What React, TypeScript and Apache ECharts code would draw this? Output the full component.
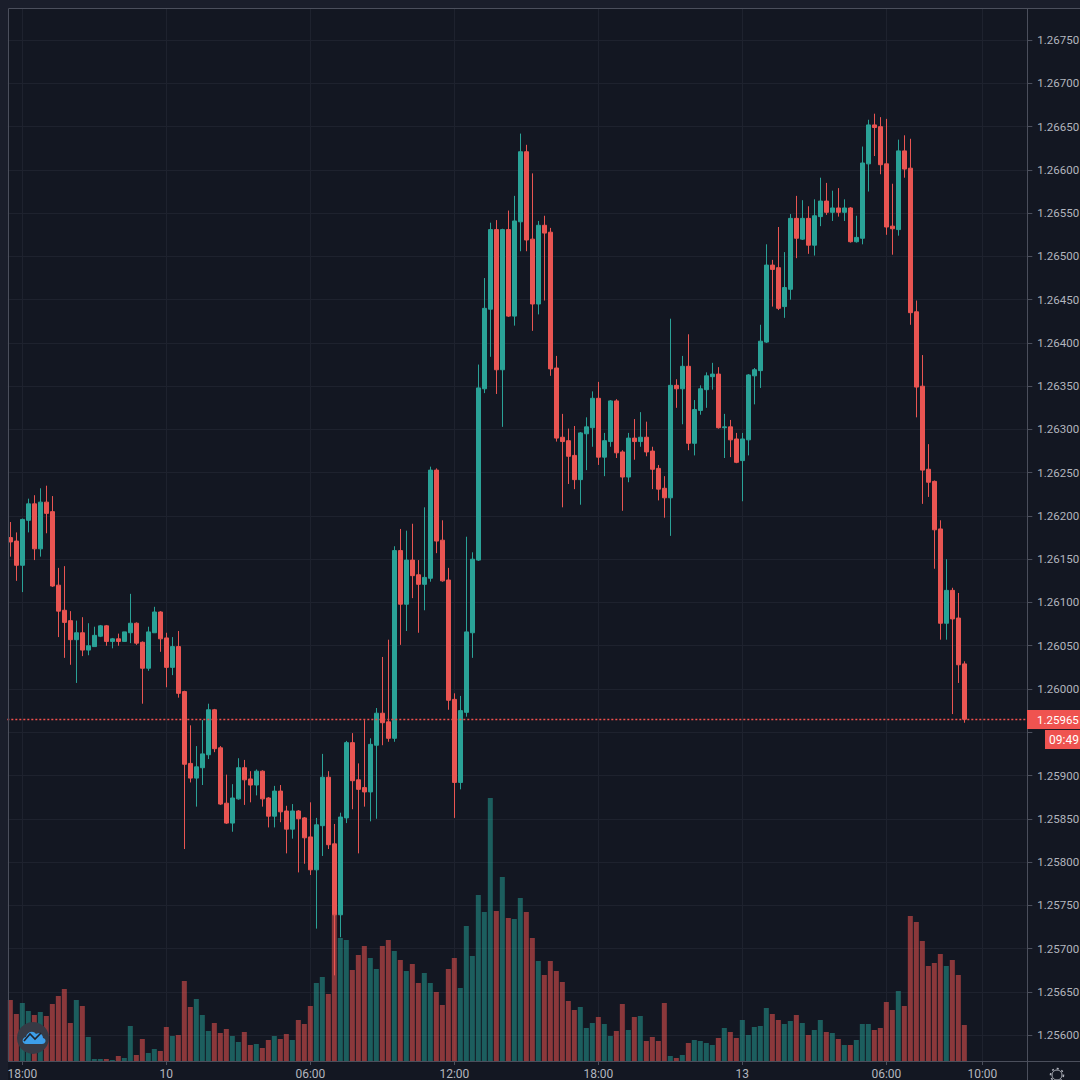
import React, { useEffect, useRef } from "react";
import * as echarts from "echarts";

const opens = [
1.26175,1.26171,1.26143,1.26195,1.26214,1.26162,1.26216,1.26205,1.26120,1.26091,
1.26079,1.26057,1.26065,1.26045,1.26049,1.26061,1.26073,1.26055,1.26058,1.26055,
1.26065,1.26076,1.26054,1.26024,1.26065,1.26089,1.26059,1.26025,1.26049,1.25997,
1.25914,1.25897,1.25909,1.25924,1.25976,1.25932,1.25868,1.25845,1.25873,1.25909,
1.25896,1.25889,1.25905,1.25874,1.25853,1.25882,1.25859,1.25838,1.25859,1.25851,
1.25829,1.25791,1.25842,1.25898,1.25821,1.25739,1.25851,1.25938,1.25895,1.25886,
1.25881,1.25935,1.25972,1.25962,1.25943,1.26160,1.26098,1.26149,1.26132,1.26121,
1.26128,1.26253,1.26172,1.26126,1.25988,1.25892,1.25973,1.26065,1.26149,1.26347,
1.26439,1.26531,1.26369,1.26531,1.26431,1.26540,1.26621,1.26520,1.26445,1.26536,
1.26528,1.26371,1.26291,1.26287,1.26270,1.26242,1.26295,1.26302,1.26336,1.26268,
1.26286,1.26333,1.26274,1.26245,1.26290,1.26286,1.26291,1.26275,1.26255,1.26232,
1.26221,1.26351,1.26347,1.26373,1.26284,1.26322,1.26346,1.26361,1.26364,1.26302,
1.26303,1.26289,1.26264,1.26288,1.26362,1.26368,1.26401,1.26490,1.26487,1.26442,
1.26462,1.26544,1.26520,1.26544,1.26513,1.26546,1.26564,1.26551,1.26556,1.26551,
1.26556,1.26517,1.26521,1.26607,1.26652,1.26650,1.26607,1.26535,1.26531,1.26622,
1.26602,1.26436,1.26350,1.26254,1.26240,1.26185,1.26076,1.26114,1.26082,1.26029,
];
const closes = [
1.26170,1.26143,1.26196,1.26214,1.26162,1.26216,1.26203,1.26119,1.26090,1.26077,
1.26057,1.26065,1.26045,1.26050,1.26062,1.26073,1.26055,1.26058,1.26055,1.26066,
1.26076,1.26053,1.26024,1.26066,1.26089,1.26058,1.26025,1.26049,1.25995,1.25913,
1.25897,1.25910,1.25925,1.25976,1.25931,1.25867,1.25845,1.25874,1.25909,1.25895,
1.25889,1.25905,1.25873,1.25853,1.25882,1.25858,1.25838,1.25859,1.25850,1.25828,
1.25791,1.25843,1.25898,1.25820,1.25739,1.25852,1.25938,1.25894,1.25884,1.25881,
1.25936,1.25972,1.25961,1.25943,1.26160,1.26098,1.26149,1.26131,1.26121,1.26129,
1.26253,1.26171,1.26125,1.25987,1.25892,1.25975,1.26066,1.26150,1.26348,1.26440,
1.26531,1.26369,1.26531,1.26431,1.26541,1.26621,1.26519,1.26445,1.26536,1.26527,
1.26370,1.26290,1.26286,1.26269,1.26242,1.26296,1.26303,1.26336,1.26268,1.26287,
1.26333,1.26273,1.26245,1.26290,1.26286,1.26291,1.26274,1.26254,1.26231,1.26221,
1.26351,1.26347,1.26373,1.26284,1.26323,1.26347,1.26362,1.26364,1.26302,1.26303,
1.26288,1.26262,1.26289,1.26363,1.26369,1.26402,1.26490,1.26485,1.26440,1.26464,
1.26544,1.26521,1.26544,1.26513,1.26547,1.26564,1.26551,1.26556,1.26551,1.26556,
1.26517,1.26522,1.26608,1.26652,1.26649,1.26606,1.26534,1.26532,1.26622,1.26601,
1.26435,1.26349,1.26253,1.26239,1.26184,1.26076,1.26114,1.26081,1.26028,1.25965,
];
const lows = [
1.26153,1.26125,1.26112,1.26181,1.26149,1.26153,1.26180,1.26118,1.26060,1.26036,
1.26028,1.26007,1.26038,1.26039,1.26049,1.26060,1.26050,1.26047,1.26050,1.26055,
1.26053,1.26051,1.25983,1.26021,1.26065,1.26043,1.26002,1.26016,1.25990,1.25815,
1.25892,1.25864,1.25889,1.25919,1.25927,1.25866,1.25844,1.25835,1.25872,1.25866,
1.25869,1.25877,1.25864,1.25840,1.25840,1.25846,1.25810,1.25827,1.25788,1.25798,
1.25785,1.25723,1.25807,1.25815,1.25669,1.25713,1.25845,1.25861,1.25810,1.25864,
1.25847,1.25850,1.25935,1.25939,1.25939,1.26051,1.26067,1.26105,1.26065,1.26091,
1.26124,1.26157,1.26124,1.25976,1.25851,1.25884,1.25968,1.26036,1.26148,1.26342,
1.26384,1.26341,1.26303,1.26430,1.26420,1.26506,1.26506,1.26414,1.26433,1.26449,
1.26362,1.26286,1.26210,1.26237,1.26231,1.26213,1.26253,1.26280,1.26259,1.26246,
1.26280,1.26267,1.26206,1.26239,1.26265,1.26280,1.26269,1.26231,1.26218,1.26198,
1.26177,1.26325,1.26306,1.26276,1.26270,1.26317,1.26325,1.26346,1.26301,1.26267,
1.26268,1.26261,1.26217,1.26270,1.26329,1.26348,1.26400,1.26442,1.26438,1.26429,
1.26450,1.26498,1.26519,1.26503,1.26501,1.26535,1.26548,1.26541,1.26546,1.26541,
1.26516,1.26516,1.26514,1.26575,1.26616,1.26595,1.26525,1.26502,1.26524,1.26591,
1.26421,1.26314,1.26214,1.26222,1.26139,1.26057,1.26057,1.25971,1.26007,1.25961,
];
const highs = [
1.26193,1.26181,1.26197,1.26220,1.26224,1.26232,1.26235,1.26223,1.26140,1.26142,
1.26090,1.26079,1.26083,1.26076,1.26072,1.26074,1.26074,1.26059,1.26064,1.26066,
1.26110,1.26077,1.26055,1.26072,1.26095,1.26090,1.26065,1.26060,1.26067,1.25998,
1.25958,1.25934,1.25964,1.25983,1.25977,1.25934,1.25901,1.25890,1.25920,1.25918,
1.25905,1.25907,1.25906,1.25875,1.25888,1.25889,1.25865,1.25867,1.25860,1.25852,
1.25869,1.25851,1.25925,1.25905,1.25844,1.25857,1.25940,1.25949,1.25914,1.25964,
1.25943,1.25978,1.26037,1.26057,1.26165,1.26185,1.26183,1.26191,1.26149,1.26210,
1.26257,1.26255,1.26195,1.26140,1.25995,1.25992,1.26176,1.26158,1.26375,1.26475,
1.26539,1.26542,1.26532,1.26553,1.26570,1.26642,1.26629,1.26596,1.26541,1.26547,
1.26533,1.26385,1.26318,1.26301,1.26304,1.26297,1.26314,1.26344,1.26355,1.26296,
1.26334,1.26335,1.26276,1.26296,1.26312,1.26320,1.26309,1.26280,1.26259,1.26246,
1.26428,1.26358,1.26385,1.26410,1.26334,1.26351,1.26366,1.26377,1.26372,1.26318,
1.26311,1.26296,1.26296,1.26364,1.26371,1.26421,1.26514,1.26496,1.26534,1.26505,
1.26549,1.26570,1.26565,1.26558,1.26566,1.26591,1.26585,1.26576,1.26579,1.26566,
1.26557,1.26547,1.26627,1.26658,1.26665,1.26661,1.26659,1.26584,1.26635,1.26640,
1.26636,1.26449,1.26386,1.26283,1.26241,1.26195,1.26150,1.26117,1.26111,1.26032,
];
const volumes = [
61,47,58,50,46,49,45,57,65,72,
38,61,55,24,2,2,2,1,5,3,
35,6,22,8,12,10,34,25,26,80,
54,62,46,30,38,28,32,25,19,29,
16,17,13,21,25,22,27,21,41,37,
55,78,84,67,146,123,121,91,106,115,
103,92,115,121,110,101,90,97,78,88,
78,69,56,92,103,73,135,105,166,149,
263,150,184,143,142,163,149,123,100,86,
100,90,79,60,51,54,33,38,44,37,
25,30,57,31,44,45,20,24,20,58,
5,3,6,18,21,20,18,16,23,33,
29,23,41,26,34,35,53,47,41,37,
40,46,38,26,31,41,29,28,22,16,
16,21,37,37,31,33,59,51,70,55,
145,139,120,95,98,107,95,101,86,36,
];
const timeTickIndex = [2, 26, 50, 74, 98, 122, 146, 162];
const timeTickLabels = ["18:00", "10", "06:00", "12:00", "18:00", "13", "06:00", "10:00"];
const priceTicks = [
1.256,1.2565,1.257,1.2575,1.258,1.2585,1.259,1.2595,1.26,1.2605,1.261,1.2615,
1.262,1.2625,1.263,1.2635,1.264,1.2645,1.265,1.2655,1.266,1.2665,1.267,1.2675,
];
const priceLabelTicks = priceTicks.filter((v) => v !== 1.2595);
const lastPrice = 1.25965;
const lastPriceLabel = "1.25965";
const countdownLabel = "09:49";

const SLOT_COUNT = 170;
const categories = Array.from({ length: SLOT_COUNT }, (_, i) => {
  const k = timeTickIndex.indexOf(i);
  return k >= 0 ? timeTickLabels[k] : "";
});

const UP = "#2aa297";
const DOWN = "#e95552";
const UP_VOL = "rgba(38,166,154,0.5)";
const DOWN_VOL = "rgba(239,83,80,0.55)";
const GRID = "#1e222e";
const FRAME = "#4b4f5c";
const TEXT = "#b2b5be";
const FONT = "Roboto, sans-serif";
const TOP = 20;

echarts.graphic.registerShape(
  "cloudLogo",
  echarts.graphic.extendPath(
    "M4 15 C0 15 -1 9 4 8 C5 3 11 1 14 5 C17 3 21 5 21 9 C25 10 24 15 20 15 Z",
    {}
  )
);

const isTimeTick = (i: number) => timeTickIndex.includes(i);

export default function App() {
  const ref = useRef<HTMLDivElement>(null);
  useEffect(() => {
    document.body.style.margin = "0";
    const chart = echarts.init(ref.current!, undefined, { renderer: "svg" });
    const candleData = opens.map((o, i) => [o, closes[i], lows[i], highs[i]]);
    const volumeData = volumes.map((v, i) => ({
      value: v,
      itemStyle: { color: closes[i] >= opens[i] ? UP_VOL : DOWN_VOL },
    }));
    chart.setOption({
      animation: false,
      backgroundColor: "#131722",
      grid: { left: 7.33, top: 9, width: 1020, height: 1052, containLabel: false, outerBoundsMode: "none" },
      xAxis: {
        type: "category",
        data: categories,
        boundaryGap: true,
        axisLine: { show: false },
        axisTick: {
          show: true,
          alignWithLabel: true,
          length: 4,
          interval: (i: number) => isTimeTick(i),
          lineStyle: { color: FRAME },
        },
        splitLine: {
          show: true,
          alignWithLabel: true,
          interval: (i: number) => isTimeTick(i),
          lineStyle: { color: GRID, width: 1 },
        },
        axisLabel: {
          show: true,
          interval: (i: number) => isTimeTick(i),
          color: TEXT,
          fontFamily: FONT,
          fontSize: 12,
          margin: 7,
          hideOverlap: false,
        },
      },
      yAxis: [
        {
          type: "value",
          position: "right",
          min: 1.2557,
          max: 1.26786,
          axisLine: { show: false },
          axisTick: {
            show: true,
            length: 5,
            customValues: priceTicks,
            lineStyle: { color: FRAME },
          },
          splitLine: { show: true, lineStyle: { color: GRID, width: 1 } },
          axisLabel: {
            show: true,
            customValues: priceLabelTicks,
            formatter: (v: number) => v.toFixed(5),
            color: TEXT,
            fontFamily: FONT,
            fontSize: 11.5,
            margin: 10,
            showMinLabel: true,
            showMaxLabel: true,
          },
        },
        { type: "value", min: 0, max: 1052, show: false, splitLine: { show: false } },
      ],
      series: [
        {
          type: "bar",
          yAxisIndex: 1,
          data: volumeData,
          barWidth: 5,
          silent: true,
          z: 2,
        },
        {
          type: "candlestick",
          yAxisIndex: 0,
          data: candleData,
          barWidth: 4,
          z: 3,
          itemStyle: {
            color: UP,
            color0: DOWN,
            borderColor: UP,
            borderColor0: DOWN,
            borderWidth: 1,
          },
          markLine: {
            silent: true,
            symbol: "none",
            precision: 5,
            label: { show: false },
            emphasis: { disabled: true },
            itemStyle: { color: "#ef5350" },
            lineStyle: { color: "#f2504d", type: [2, 2], width: 1.4, opacity: 1 },
            data: [{ yAxis: lastPrice, lineStyle: { color: "#f2504d", type: [2, 2], width: 1.4, opacity: 1 } }],
          },
        },
      ],
      graphic: [
        { type: "rect", z: 0, silent: true, shape: { x: 0, y: 0, width: 1080, height: 8 }, style: { fill: "#1a1e2b" } },
        { type: "rect", z: 0, silent: true, shape: { x: 0, y: 0, width: 8, height: 1080 }, style: { fill: "#1a1e2b" } },
        { type: "line", z: 10, silent: true, shape: { x1: 8.5, y1: 8.5, x2: 1080, y2: 8.5 }, style: { stroke: FRAME, lineWidth: 1 } },
        { type: "line", z: 10, silent: true, shape: { x1: 8.5, y1: 8.5, x2: 8.5, y2: 1061.5 }, style: { stroke: FRAME, lineWidth: 1 } },
        { type: "line", z: 10, silent: true, shape: { x1: 8, y1: 1061.5, x2: 1080, y2: 1061.5 }, style: { stroke: FRAME, lineWidth: 1 } },
        { type: "line", z: 10, silent: true, shape: { x1: 1027.5, y1: 8, x2: 1027.5, y2: 1080 }, style: { stroke: FRAME, lineWidth: 1 } },
        { type: "rect", z: TOP, silent: true, shape: { x: 1027, y: 710, width: 53, height: 19 }, style: { fill: "#ef5350" } },
        {
          type: "text",
          z: TOP,
          silent: true,
          x: 1037,
          y: 719.5,
          style: { text: lastPriceLabel, fill: "#ffffff", font: `11.5px ${FONT}`, verticalAlign: "middle" },
        },
        { type: "rect", z: TOP, silent: true, shape: { x: 1045, y: 730, width: 35, height: 19 }, style: { fill: "#ef5350" } },
        {
          type: "text",
          z: TOP,
          silent: true,
          x: 1049,
          y: 739.5,
          style: { text: countdownLabel, fill: "#ffffff", font: `12px ${FONT}`, verticalAlign: "middle" },
        },
        { type: "circle", z: TOP, silent: true, shape: { cx: 33, cy: 1038, r: 16 }, style: { fill: "#363a45" } },
        { type: "cloudLogo", z: TOP, silent: true, x: 22, y: 1029, style: { fill: "#3d9fea" } },
        {
          type: "polyline",
          z: TOP,
          silent: true,
          shape: { points: [[24, 1041], [30, 1034], [35, 1039], [41, 1033]] },
          style: { stroke: "#20242f", fill: "none", lineWidth: 1.6 },
        },
        { type: "circle", z: TOP, silent: true, shape: { cx: 1057, cy: 1075, r: 5 }, style: { fill: "none", stroke: TEXT, lineWidth: 1 } },
        { type: "circle", z: TOP, silent: true, shape: { cx: 1057, cy: 1075, r: 6.5 }, style: { fill: "none", stroke: TEXT, lineWidth: 1.5, lineDash: [2, 3] } },
      ],
    });
    return () => chart.dispose();
  }, []);
  return <div ref={ref} style={{ width: 1080, height: 1080 }} />;
}
